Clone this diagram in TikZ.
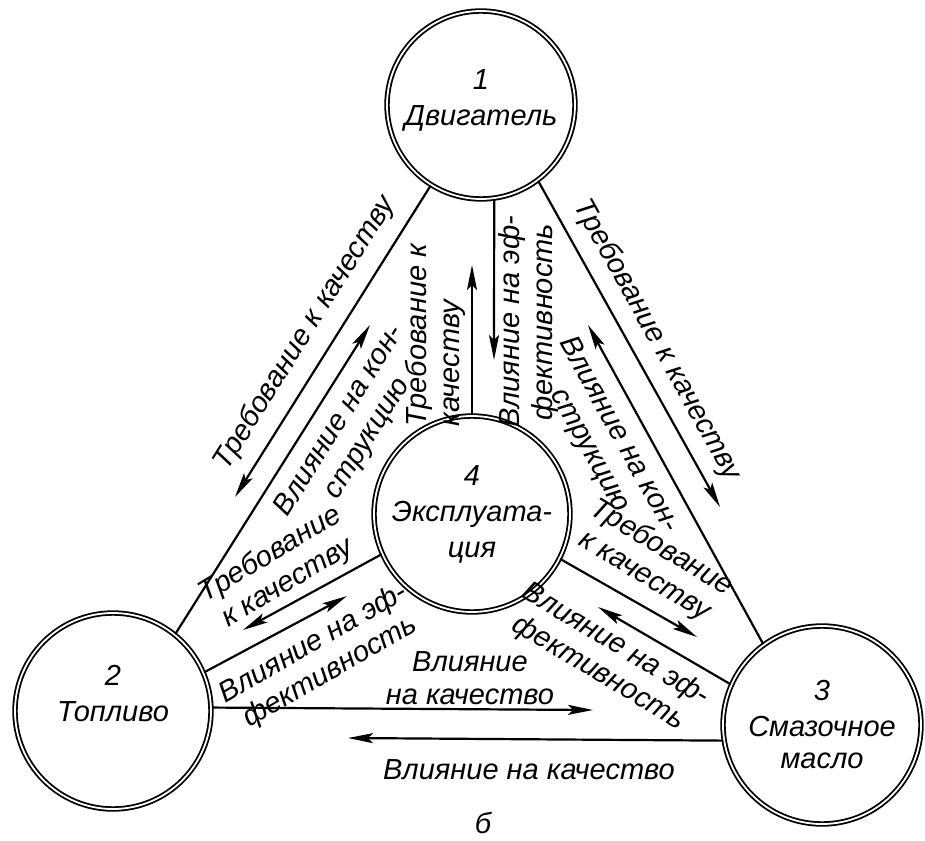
\documentclass[tikz,border=0pt]{standalone}
\usepackage{fontspec}
\setmainfont{Liberation Sans}
\usepackage{tikz}
\usetikzlibrary{arrows.meta}
\newcommand\lbl{\itshape\fontsize{29}{33}\selectfont}
\tikzset{unit/.style={circle, draw=black, double=white, double distance=1.8pt, line width=1.8pt, minimum size=#1, inner sep=0pt, align=center, font=\lbl}}
\tikzset{arr/.style={line width=2.2pt, -{Stealth[length=25pt, width=10pt, inset=5pt]}}}
\tikzset{txt/.style={font=\lbl, align=center, inner sep=0pt}}

\begin{document}
\begin{tikzpicture}[x=1pt, y=-1pt]
\useasboundingbox (0,0) rectangle (925,840);
% circles
\node[unit=188, text depth=14pt] (c1) at (481,105) {1\\[3pt]Двигатель};
\node[unit=196, text depth=36pt] (c2) at (113,711) {2\\[3pt]Топливо};
\node[unit=198] (c3) at (822,725) {3\\[3pt]Смазочное\\[-1pt]масло};
\node[unit=196] (c4) at (472,514) {4\\[3pt]Эксплуата-\\[3pt]ция};
% free ends of the arrows
\coordinate (t12) at (235,497);
\coordinate (t21) at (370,325);
\coordinate (t13) at (720,507);
\coordinate (t31) at (588,325);
\coordinate (t41) at (472,265);
\coordinate (t14) at (494,360);
\coordinate (t42) at (243,630);
\coordinate (t24) at (347,596);
\coordinate (t43) at (697,637);
\coordinate (t34) at (598,607);
\coordinate (t23) at (593,710);
\coordinate (t32) at (348,738);
\draw[arr] (c1.238) -- (t12);
\draw[arr] (c2.51) -- (t21);
\draw[arr] (c1.307) -- (t13);
\draw[arr] (c3.126) -- (t31);
\draw[arr] (c4.90) -- (t41);
\draw[arr] (c1.278) -- (t14);
\draw[arr] (c4.204) -- (t42);
\draw[arr] (c2.23) -- (t24);
\draw[arr] (c4.333) -- (t43);
\draw[arr] (c3.156) -- (t34);
\draw[arr] (c2.2) -- (t23);
\draw[arr] (c3.189) -- (t32);
% labels
\node[txt, rotate=58] (l12) at (305,333) {Требование к качеству};
\node[txt, rotate=58] (l21) at (354,430) {Влияние на кон-\\струкцию};
\node[txt, rotate=90, align=left] (l41) at (435,335) {Требование к\\качеству};
\node[txt, rotate=90] (l14) at (528,322) {Влияние на эф-\\фективность};
\node[txt, rotate=-61] (l13) at (657,340) {Требование к качеству};
\node[txt, rotate=-61] (l31) at (604,443) {Влияние на кон-\\струкцию};
\node[txt, rotate=-31] (l43) at (653,562) {Требование\\к качеству};
\node[txt, rotate=-31] (l34) at (607,659) {Влияние на эф-\\фективность};
\node[txt, rotate=31] (l42) at (279,569) {Требование\\к качеству};
\node[txt, rotate=30] (l24) at (322,658) {Влияние на эф-\\фективность};
\node[txt] (l23) at (470,678) {Влияние\\на качество};
\node[txt] (l32) at (529,770) {Влияние на качество};
\node[txt] (cap) at (483,823) {б};
\end{tikzpicture}
\end{document}
